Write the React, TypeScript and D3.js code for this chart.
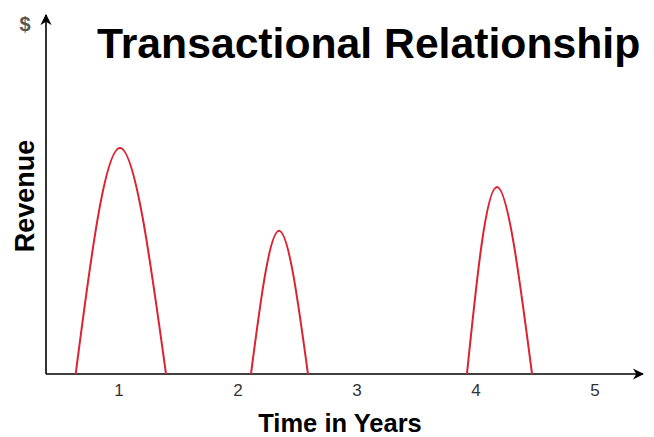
import React from 'react';
import * as d3 from 'd3';

// years shown under the axis
const yearTicks = [1, 2, 3, 4, 5];

// each sale: start, peak and end of the revenue arch (time in years, revenue units)
const hump1Years = [0.636, 1.008, 1.395];
const hump1Revenue = [0, 6.46, 0];
const hump2Years = [2.109, 2.345, 2.588];
const hump2Revenue = [0, 4.09, 0];
const hump3Years = [3.924, 4.176, 4.471];
const hump3Revenue = [0, 5.34, 0];

const humps = [
  { years: hump1Years, revenue: hump1Revenue },
  { years: hump2Years, revenue: hump2Revenue },
  { years: hump3Years, revenue: hump3Revenue },
];

const width = 654;
const height = 437;

export default function App() {
  const x = d3.scaleLinear().domain([1, 5]).range([119, 595]);
  const y = d3.scaleLinear().domain([0, 10]).range([374, 24]);

  const originX = 46;
  const originY = y(0);

  const line = d3
    .line<[number, number]>()
    .x((d) => x(d[0]))
    .y((d) => y(d[1]))
    .curve(d3.curveNatural);

  const font = 'Arial, "Liberation Sans", sans-serif';

  return (
    <svg
      width={width}
      height={height}
      style={{ position: 'absolute', left: 0, top: 0, background: '#fff' }}
    >
      <defs>
        <marker
          id="arrow"
          viewBox="0 0 10 10"
          refX="9"
          refY="5"
          markerWidth="7"
          markerHeight="7"
          orient="auto"
        >
          <path d="M0,0 L10,5 L0,10 L3,5 Z" fill="#000" />
        </marker>
      </defs>

      {/* axes */}
      <line
        x1={originX}
        y1={originY}
        x2={originX}
        y2={15}
        stroke="#000"
        strokeWidth={1.6}
        markerEnd="url(#arrow)"
      />
      <line
        x1={originX}
        y1={originY}
        x2={643}
        y2={originY}
        stroke="#000"
        strokeWidth={1.6}
        markerEnd="url(#arrow)"
      />

      {humps.map((h, i) => (
        <path
          key={i}
          d={line(h.years.map((t, j) => [t, h.revenue[j]] as [number, number])) || ''}
          fill="none"
          stroke="#dc2233"
          strokeWidth={2}
        />
      ))}

      {yearTicks.map((t) => (
        <text
          key={t}
          x={x(t)}
          y={396}
          textAnchor="middle"
          fontFamily={font}
          fontSize={17}
          fill="#333"
        >
          {t}
        </text>
      ))}

      <text
        x={25}
        y={31}
        textAnchor="middle"
        fontFamily={font}
        fontSize={20}
        fontWeight="bold"
        fill="#555"
      >
        $
      </text>

      <text x={97} y={58} fontFamily={font} fontSize={42.7} fontWeight="bold" fill="#000">
        Transactional Relationship
      </text>

      <text
        x={340}
        y={432}
        textAnchor="middle"
        fontFamily={font}
        fontSize={25.5}
        fontWeight="bold"
        fill="#000"
      >
        Time in Years
      </text>

      <text
        transform="translate(34,196) rotate(-90)"
        textAnchor="middle"
        fontFamily={font}
        fontSize={27}
        fontWeight="bold"
        fill="#000"
      >
        Revenue
      </text>
    </svg>
  );
}
